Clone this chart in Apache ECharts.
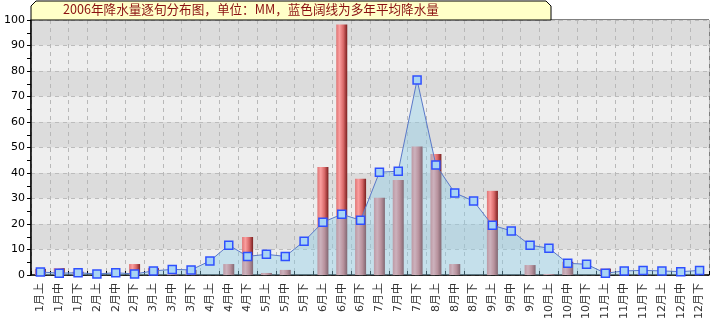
<!DOCTYPE html>
<html>
<head>
<meta charset="utf-8">
<script src="https://cdn.jsdelivr.net/npm/echarts@6/dist/echarts.min.js"></script>
<style>
html,body{margin:0;padding:0;background:#fff;}
#c{width:710px;height:320px;}
</style>
</head>
<body>
<div id="c"></div>
<script>
var categories = ['1月上','1月中','1月下','2月上','2月中','2月下','3月上','3月中','3月下','4月上','4月中','4月下',
  '5月上','5月中','5月下','6月上','6月中','6月下','7月上','7月中','7月下','8月上','8月中','8月下',
  '9月上','9月中','9月下','10月上','10月中','10月下','11月上','11月中','11月下','12月上','12月中','12月下'];
var rainfall2006 = [2.4,2.7,1.3,0,0,4.3,2.7,0.4,2.0,0,4.3,14.9,
  0.8,2.0,0,42.4,98.2,37.7,30.3,37.3,50.4,47.5,4.3,0,
  33.0,0,3.9,0.4,5.2,0,2.5,0.5,0.5,0,0,0];
var averageRain = [1.2,0.7,0.9,0.4,0.9,0.4,1.6,2.2,2.0,5.5,11.7,7.3,
  8.1,7.3,13.2,20.7,23.8,21.5,40.3,40.7,76.5,43.1,32.2,29.0,
  19.5,17.3,11.7,10.5,4.6,4.2,0.7,1.6,1.8,1.6,1.3,1.8];
var yTicks = {min:0, max:100, interval:10};
var titleText = '2006年降水量逐旬分布图，单位：MM，蓝色阔线为多年平均降水量';

var chart = echarts.init(document.getElementById('c'), null, {renderer:'canvas'});
var font = '"DejaVu Sans", "Noto Sans CJK SC", sans-serif';
chart.setOption({
  animation:false,
  backgroundColor:'#ffffff',
  graphic:[
    {type:'polygon', z:10, shape:{points:[[31,20],[31,6],[36,1],[546,1],[551,6],[551,20]]},
     style:{fill:'#ffffc8', stroke:'#000', lineWidth:1}},
    {type:'text', z:11, left:63, top:3, style:{text:titleText, fill:'#8b1010', font:'12.6px "Noto Sans CJK SC", sans-serif'}}
  ],
  grid:{left:31, right:1, top:20, bottom:45, containLabel:false, outerBoundsMode:'none',
        show:true, borderColor:'#000', borderWidth:1, backgroundColor:'transparent'},
  xAxis:{
    type:'category', data:categories, boundaryGap:true,
    axisLine:{lineStyle:{color:'#000', width:1.5}},
    axisTick:{show:true, inside:true, length:4, lineStyle:{color:'#000'}},
    axisLabel:{rotate:90, fontSize:11, color:'#333', margin:8, fontFamily:font, interval:0},
    splitLine:{show:true, lineStyle:{color:'#b8b8b8', type:[4,4]}}
  },
  yAxis:{
    type:'value', min:yTicks.min, max:yTicks.max, interval:yTicks.interval,
    axisLine:{show:true, lineStyle:{color:'#000', width:1.5}},
    axisTick:{show:true, length:4, lineStyle:{color:'#000'}},
    minorTick:{show:true, splitNumber:2, length:4, lineStyle:{color:'#000'}},
    axisLabel:{fontSize:11, color:'#000', margin:6, fontFamily:font},
    splitLine:{show:true, lineStyle:{color:'#bcbcbc', type:[4,4]}},
    splitArea:{show:true, areaStyle:{color:['#eeeeee','#dcdcdc']}}
  },
  series:[
    {type:'bar', data:rainfall2006, barWidth:11,
     itemStyle:{color:new echarts.graphic.LinearGradient(0,0,1,0,[
       {offset:0,color:'#e07474'},{offset:0.3,color:'#fa9e9e'},{offset:0.65,color:'#d86868'},{offset:1,color:'#7a1e1e'}])}},
    {type:'line', data:averageRain, symbol:'rect', symbolSize:8,
     lineStyle:{color:'#5a78c8', width:1},
     itemStyle:{color:'#a8d4f4', borderColor:'#2f50ff', borderWidth:1.5},
     areaStyle:{color:'rgba(140,205,232,0.6)'}}
  ]
});
</script>
</body>
</html>
